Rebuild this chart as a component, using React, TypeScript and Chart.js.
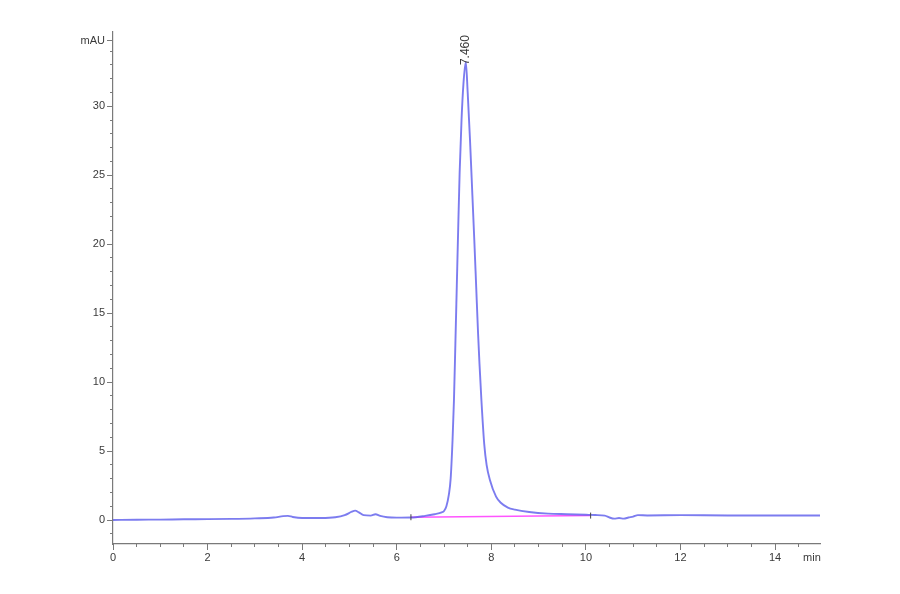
import React, { useEffect, useRef } from "react";
import { Chart, registerables } from "chart.js";

Chart.register(...registerables);

// retention time (min) and signal (mAU)
const times = [
  0, 0.5, 1.0, 1.5, 2.0, 2.5, 3.0, 3.4, 3.6, 3.7, 3.8, 4.0, 4.4, 4.7, 4.9, 5.05, 5.12, 5.2, 5.3, 5.45,
  5.55, 5.65, 5.8, 6.0, 6.3, 6.6, 6.8, 6.95, 7.0, 7.05, 7.1, 7.14, 7.18, 7.21, 7.24, 7.27, 7.3, 7.33,
  7.37, 7.41, 7.46, 7.5, 7.55, 7.6, 7.64, 7.68, 7.72, 7.75, 7.79, 7.85, 7.9, 7.97, 8.1, 8.2, 8.35, 8.5,
  8.8, 9.2, 9.6, 10.0, 10.2, 10.4, 10.5, 10.6, 10.7, 10.8, 10.9, 11.0, 11.1, 11.3, 12.0, 13.0, 14.0, 14.95,
];
const signal = [
  0.0, 0.02, 0.03, 0.05, 0.06, 0.08, 0.12, 0.18, 0.28, 0.3, 0.22, 0.15, 0.15, 0.2, 0.35, 0.6, 0.68, 0.55,
  0.35, 0.32, 0.42, 0.3, 0.2, 0.17, 0.18, 0.3, 0.42, 0.55, 0.65, 1.0, 1.8, 3.0, 5.8, 8.7, 12.8, 17.0,
  21.2, 25.2, 29.0, 31.6, 33.2, 31.0, 27.5, 23.5, 20.3, 16.9, 13.5, 11.3, 8.7, 5.5, 4.0, 2.9, 1.7, 1.25,
  0.9, 0.75, 0.58, 0.46, 0.42, 0.38, 0.36, 0.32, 0.18, 0.1, 0.14, 0.1, 0.18, 0.25, 0.35, 0.33, 0.35, 0.33,
  0.33, 0.33,
];

// integration baseline
const baselineTimes = [6.3, 10.1];
const baselineValues = [0.2, 0.32];

// peak annotation
const peakTimes = [7.46];
const peakHeights = [33.2];
const peakLabels = ["7.460"];

// axes
const xRange = [0, 14.95];
const yRange = [-1.74, 35.38];
const xMajorTicks = [0, 2, 4, 6, 8, 10, 12, 14];
const xUnitTick = 14.78;
const xUnitLabel = "min";
const xMinorStep = 0.5;
const yMajorTicks = [0, 5, 10, 15, 20, 25, 30];
const yUnitTick = 34.73;
const yUnitLabel = "mAU";
const yMinorStep = 1;

const AXIS_COLOR = "#7a7a7a";
const TEXT_COLOR = "#3a3a3a";
const FONT = { family: "'Liberation Sans', Arial, sans-serif", size: 11 };

const peakLabelPlugin = {
  id: "peakLabel",
  afterDatasetsDraw(chart: any) {
    const { ctx, scales } = chart;
    const xs = scales.x;
    const ys = scales.y;
    ctx.save();
    // baseline end marks
    ctx.strokeStyle = "#444";
    ctx.lineWidth = 1;
    baselineTimes.forEach((t, i) => {
      const px = xs.getPixelForValue(t);
      const py = ys.getPixelForValue(baselineValues[i]);
      ctx.beginPath();
      ctx.moveTo(px, py - 3);
      ctx.lineTo(px, py + 3);
      ctx.stroke();
    });
    ctx.fillStyle = TEXT_COLOR;
    ctx.font = "12px 'Liberation Sans', Arial, sans-serif";
    ctx.textAlign = "left";
    ctx.textBaseline = "middle";
    peakTimes.forEach((t, i) => {
      const px = xs.getPixelForValue(t);
      const py = ys.getPixelForValue(peakHeights[i]);
      ctx.save();
      ctx.translate(px, py + 3);
      ctx.rotate(-Math.PI / 2);
      ctx.fillText(peakLabels[i], 0, 0);
      ctx.restore();
    });
    ctx.restore();
  },
};

export default function App() {
  const ref = useRef<HTMLCanvasElement | null>(null);

  useEffect(() => {
    if (!ref.current) return;
    const mainData = times.map((t, i) => ({ x: t, y: signal[i] }));
    const baseData = baselineTimes.map((t, i) => ({ x: t, y: baselineValues[i] }));

    const minorTicks = (min: number, max: number, step: number) => {
      const arr: { value: number }[] = [];
      for (let v = Math.ceil(min / step) * step; v <= max + 1e-9; v += step) {
        arr.push({ value: Math.round(v * 1000) / 1000 });
      }
      return arr;
    };

    const chart = new Chart(ref.current, {
      type: "line",
      data: {
        datasets: [
          {
            label: "baseline",
            data: baseData,
            borderColor: "#ff55ff",
            borderWidth: 1.5,
            pointRadius: 0,
            xAxisID: "x",
            yAxisID: "y",
            order: 2,
          },
          {
            label: "signal",
            data: mainData,
            borderColor: "rgba(95, 95, 235, 0.82)",
            borderWidth: 1.9,
            pointRadius: 0,
            cubicInterpolationMode: "monotone",
            xAxisID: "x",
            yAxisID: "y",
            order: 1,
          },
        ],
      },
      options: {
        animation: false,
        responsive: false,
        maintainAspectRatio: false,
        layout: { padding: { top: 32, right: 80, left: 0, bottom: 0 } },
        plugins: { legend: { display: false }, tooltip: { enabled: false } },
        scales: {
          x: {
            type: "linear",
            position: "bottom",
            weight: 1,
            min: xRange[0],
            max: xRange[1],
            afterBuildTicks: (s: any) => {
              s.ticks = [...xMajorTicks.map((v) => ({ value: v })), { value: xUnitTick }];
            },
            afterFit: (s: any) => {
              s.height = 50;
            },
            ticks: {
              autoSkip: false,
              maxRotation: 0,
              minRotation: 0,
              padding: 1,
              color: TEXT_COLOR,
              font: FONT,
              callback: (v: any) => (Math.abs(v - xUnitTick) < 1e-6 ? xUnitLabel : String(v)),
            },
            grid: {
              drawOnChartArea: false,
              drawTicks: true,
              tickLength: 6,
              color: (c: any) =>
                c.tick && Math.abs(c.tick.value - xUnitTick) < 1e-6 ? "rgba(0,0,0,0)" : AXIS_COLOR,
            },
            border: { display: true, color: AXIS_COLOR, width: 1.2 },
          },
          xMinor: {
            type: "linear",
            position: "bottom",
            weight: 0,
            min: xRange[0],
            max: xRange[1],
            afterBuildTicks: (s: any) => {
              s.ticks = minorTicks(xRange[0], xRange[1], xMinorStep);
            },
            afterFit: (s: any) => {
              s.height = 0;
            },
            ticks: { display: false },
            grid: { drawOnChartArea: false, drawTicks: true, tickLength: 3, color: AXIS_COLOR },
            border: { display: false },
          },
          y: {
            type: "linear",
            position: "left",
            weight: 1,
            min: yRange[0],
            max: yRange[1],
            afterBuildTicks: (s: any) => {
              s.ticks = [...yMajorTicks.map((v) => ({ value: v })), { value: yUnitTick }];
            },
            afterFit: (s: any) => {
              s.width = 113;
            },
            ticks: {
              autoSkip: false,
              padding: 2,
              color: TEXT_COLOR,
              font: FONT,
              callback: (v: any) => (Math.abs(v - yUnitTick) < 1e-6 ? yUnitLabel : String(v)),
            },
            grid: { drawOnChartArea: false, drawTicks: true, tickLength: 6, color: AXIS_COLOR },
            border: { display: true, color: AXIS_COLOR, width: 1.2 },
          },
          yMinor: {
            type: "linear",
            position: "left",
            weight: 0,
            min: yRange[0],
            max: yRange[1],
            afterBuildTicks: (s: any) => {
              s.ticks = minorTicks(yRange[0], yUnitTick, yMinorStep);
            },
            afterFit: (s: any) => {
              s.width = 0;
            },
            ticks: { display: false },
            grid: { drawOnChartArea: false, drawTicks: true, tickLength: 3, color: AXIS_COLOR },
            border: { display: false },
          },
        },
      } as any,
      plugins: [peakLabelPlugin],
    });
    return () => chart.destroy();
  }, []);

  return (
    <div style={{ position: "fixed", left: 0, top: 0, width: 900, height: 594, background: "#fff" }}>
      <canvas ref={ref} width={900} height={594} style={{ width: 900, height: 594 }} />
    </div>
  );
}
